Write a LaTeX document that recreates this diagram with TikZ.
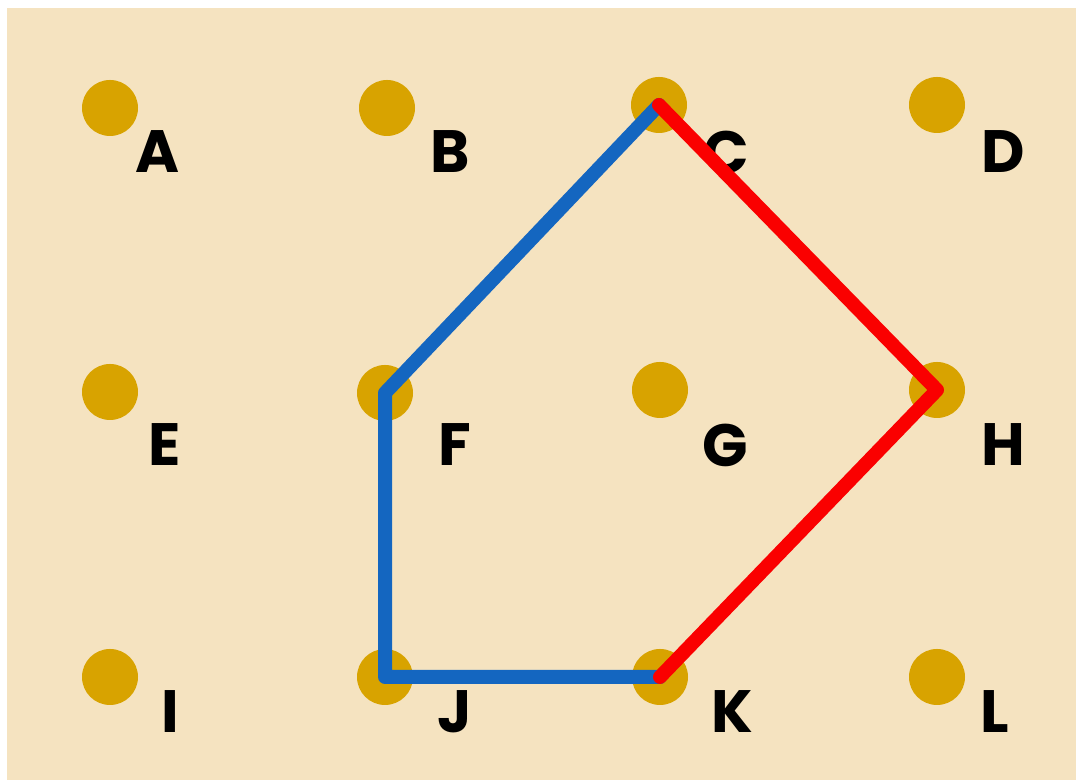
\documentclass[tikz,border=0pt]{standalone}
\usepackage{fontspec}
\setmainfont{Poppins}
\usetikzlibrary{positioning}
\definecolor{paper}{RGB}{245,227,192}
\definecolor{peg}{RGB}{216,163,0}
\definecolor{bandblue}{RGB}{20,102,192}
\definecolor{bandred}{RGB}{250,0,0}

\begin{document}
\begin{tikzpicture}[every node/.style={font=\fontsize{34}{34}\selectfont\bfseries}]
\tikzstyle{pegdot}=[circle,fill=peg,inner sep=0pt,minimum size=1.12cm]
\tikzstyle{lbl}=[inner sep=0pt,text=black]
\tikzstyle{band}=[line width=0.28cm,line cap=round,line join=round]
\useasboundingbox (0,0) rectangle (21.52,15.6);
\fill[paper] (0.15,-0.1) rectangle (21.62,15.44);
% pegs
\node[pegdot] (A) at (2.2,13.44) {};
\node[pegdot] (B) at (7.74,13.44) {};
\node[pegdot] (C) at (13.18,13.5) {};
\node[pegdot] (D) at (18.74,13.5) {};
\node[pegdot] (E) at (2.2,7.76) {};
\node[pegdot] (F) at (7.7,7.74) {};
\node[pegdot] (G) at (13.2,7.8) {};
\node[pegdot] (H) at (18.74,7.8) {};
\node[pegdot] (I) at (2.2,2.06) {};
\node[pegdot] (J) at (7.7,2.06) {};
\node[pegdot] (K) at (13.2,2.06) {};
\node[pegdot] (L) at (18.74,2.06) {};
% letters
\node[lbl] (lA) at ([shift={(0.96,-0.88)}]A.center) {A};
\node[lbl] (lB) at ([shift={(1.26,-0.88)}]B.center) {B};
\node[lbl] (lC) at ([shift={(1.34,-0.94)}]C.center) {C};
\node[lbl] (lD) at ([shift={(1.32,-0.94)}]D.center) {D};
\node[lbl] (lE) at ([shift={(1.1,-1.06)}]E.center) {E};
\node[lbl] (lF) at ([shift={(1.4,-1.04)}]F.center) {F};
\node[lbl] (lG) at ([shift={(1.3,-1.1)}]G.center) {G};
\node[lbl] (lH) at ([shift={(1.32,-1.1)}]H.center) {H};
\node[lbl] (lI) at ([shift={(1.2,-0.7)}]I.center) {I};
\node[lbl] (lJ) at ([shift={(1.4,-0.7)}]J.center) {J};
\node[lbl] (lK) at ([shift={(1.44,-0.7)}]K.center) {K};
\node[lbl] (lL) at ([shift={(1.16,-0.7)}]L.center) {L};
% bands
\draw[band,bandblue] (C.center)--(F.center)--(J.center)--(K.center);
\draw[band,bandred] (C.center)--(H.center)--(K.center);
\end{tikzpicture}
\end{document}
